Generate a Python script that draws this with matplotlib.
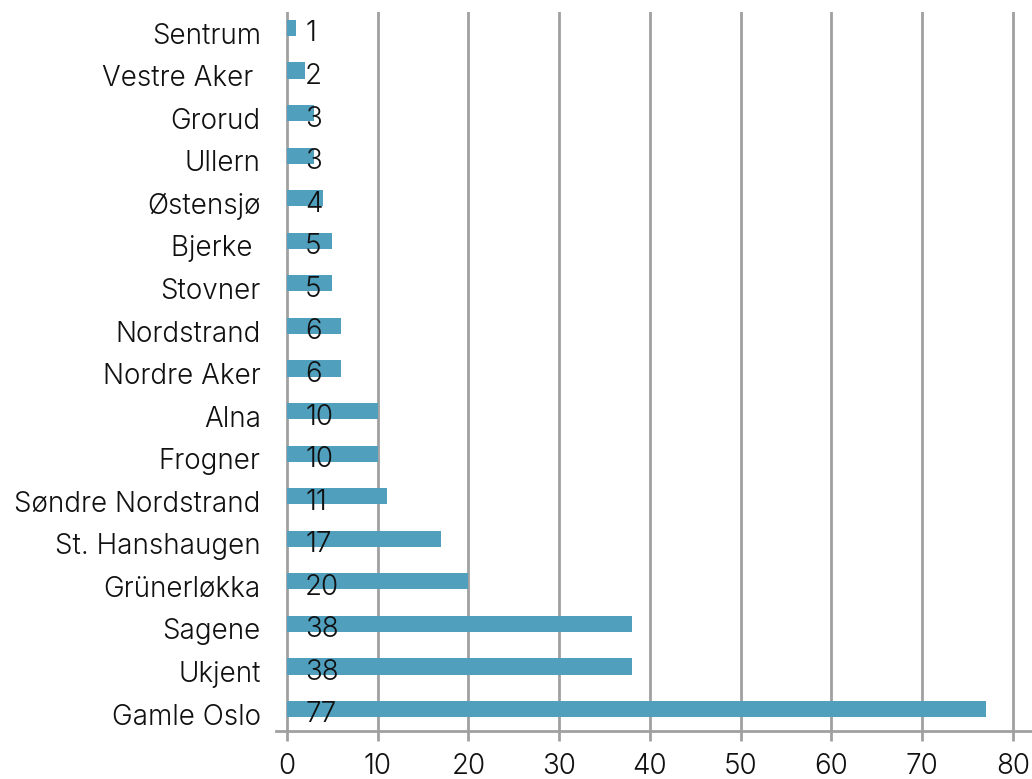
import matplotlib
matplotlib.use("Agg")
import matplotlib.pyplot as plt

# districts from bottom to top
bydel = ["Gamle Oslo", "Ukjent", "Sagene", "Grünerløkka", "St. Hanshaugen",
         "Søndre Nordstrand", "Frogner", "Alna", "Nordre Aker", "Nordstrand",
         "Stovner", "Bjerke ", "Østensjø", "Ullern", "Grorud", "Vestre Aker ", "Sentrum"]
antall = [77, 38, 38, 20, 17, 11, 10, 10, 6, 6, 5, 5, 4, 3, 3, 2, 1]
xticks = [0, 10, 20, 30, 40, 50, 60, 70, 80]

plt.rcParams.update({"font.family": ["Inter", "DejaVu Sans"], "font.weight": 300})
FS = 20
TXT = "#111111"
fig = plt.figure(figsize=(10.32, 7.79), dpi=100)
ax = fig.add_axes([276 / 1032, 1 - 731 / 779, 1 - 276 / 1032, (731 - 12) / 779])

ys = list(range(len(bydel)))
ax.barh(ys, antall, height=0.38, color="#4F9FBD", zorder=3)
for y, v in zip(ys, antall):
    ax.text(2.0, y - 0.14, str(v), fontsize=FS, color=TXT, ha="left", va="center", zorder=4)

ax.set_xlim(-1.21, 82.1)
ax.set_ylim(-0.517, 16.376)
ax.set_xticks(xticks)
ax.set_xticklabels([str(t) for t in xticks], fontsize=FS, color=TXT)
ax.set_yticks([y - 0.12 for y in ys])
ax.set_yticklabels(bydel, fontsize=FS, color=TXT)
ax.tick_params(axis="y", length=0, pad=11)
ax.tick_params(axis="x", length=7, width=2, color="#a0a0a0", pad=9)
for x in xticks:
    ax.axvline(x, color="#a0a0a0", lw=2, zorder=1)
for sp in ("top", "right", "left"):
    ax.spines[sp].set_visible(False)
ax.spines["bottom"].set_color("#a0a0a0")
ax.spines["bottom"].set_linewidth(2)

fig.savefig("out.png", dpi=100)
